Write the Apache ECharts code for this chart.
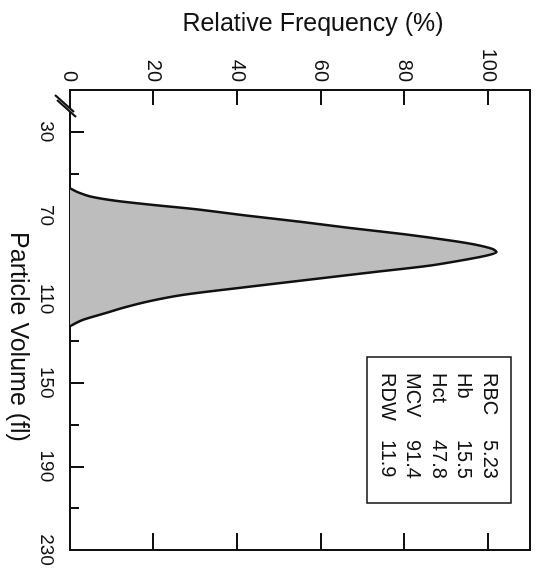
<!DOCTYPE html>
<html>
<head>
<meta charset="utf-8">
<script src="https://cdn.jsdelivr.net/npm/echarts@6/dist/echarts.min.js"></script>
<style>
  html, body { margin: 0; padding: 0; background: #fff; overflow: hidden; }
  /* chart is drawn upright, then turned a quarter clockwise like the scan */
  #main {
    position: absolute; left: 536px; top: 0;
    width: 569px; height: 536px;
    transform-origin: 0 0; transform: rotate(90deg);
  }
</style>
</head>
<body>
<div id="main"></div>
<script>
// histogram
var volume    = [57, 59, 61, 63, 65, 67, 70, 73, 76, 79, 82, 84, 86, 87.5, 89, 91, 94, 97, 101, 105, 108, 111, 114, 117, 120, 123];
var frequency = [0, 2, 5, 11, 20, 30, 42, 55, 67, 80, 91, 97, 101, 102, 100, 95, 86, 73, 56, 39, 27, 19, 13, 8, 3, 0];

var volumeLabels = [30, 70, 110, 150, 190, 230];
var volumeMajor  = [30, 70, 110, 150, 190];
var volumeMinor  = [50, 90, 130, 170, 210];
var freqLabels   = [0, 20, 40, 60, 80, 100];
var freqTicks    = [20, 40, 60, 80, 100];

var statNames  = ['RBC', 'Hb', 'Hct', 'MCV', 'RDW'];
var statValues = ['5.23', '15.5', '47.8', '91.4', '11.9'];

var ink = '#111';
var font = 'Liberation Sans, Arial, Helvetica, sans-serif';

var points = volume.map(function (v, i) { return [v, frequency[i]]; });

var chart = echarts.init(document.getElementById('main'));
chart.setOption({
  animation: false,
  backgroundColor: '#fff',
  grid: { left: 90, right: 19, top: 6, bottom: 70, show: true, borderColor: ink, borderWidth: 2 },
  xAxis: [
    {
      type: 'value', position: 'bottom', min: 10, max: 230,
      name: 'Particle Volume (fl)', nameLocation: 'middle', nameGap: 40,
      nameTextStyle: { color: ink, fontSize: 25, fontFamily: font, padding: [0, 0, 0, 34] },
      axisLine: { show: true, lineStyle: { color: ink, width: 2 } },
      axisTick: { inside: true, length: 14, customValues: volumeMajor, lineStyle: { color: ink, width: 2 } },
      axisLabel: { customValues: volumeLabels, margin: 14, fontSize: 19, color: ink, fontFamily: font },
      splitLine: { show: false }
    },
    {
      type: 'value', position: 'bottom', min: 10, max: 230,
      axisLine: { show: false },
      axisTick: { inside: true, length: 9, customValues: volumeMinor, lineStyle: { color: ink, width: 2 } },
      axisLabel: { show: false },
      splitLine: { show: false }
    }
  ],
  yAxis: [
    {
      type: 'value', position: 'left', min: 0, max: 110,
      name: 'Relative Frequency (%)', nameLocation: 'middle', nameGap: 53,
      nameTextStyle: { color: ink, fontSize: 25, fontFamily: font, padding: [0, 0, 0, 26] },
      axisLine: { show: true, lineStyle: { color: ink, width: 2 } },
      axisTick: { inside: true, length: 15, customValues: freqTicks, lineStyle: { color: ink, width: 2 } },
      axisLabel: { customValues: freqLabels, margin: 8, fontSize: 20, color: ink, fontFamily: font },
      splitLine: { show: false }
    },
    {
      type: 'value', position: 'right', min: 0, max: 110,
      axisLine: { show: true, lineStyle: { color: ink, width: 2 } },
      axisTick: { inside: true, length: 17, customValues: freqTicks, lineStyle: { color: ink, width: 2 } },
      axisLabel: { show: false },
      splitLine: { show: false }
    }
  ],
  series: [{
    type: 'line',
    data: points,
    smooth: 0.3,
    showSymbol: false,
    lineStyle: { color: ink, width: 2.5 },
    areaStyle: { color: '#bdbdbd', opacity: 1 }
  }],
  graphic: [
    // axis break mark near the start of the volume axis
    { type: 'polygon', z: 100, shape: { points: [[95, 481], [112, 462], [117, 460], [100, 479]] }, style: { fill: '#fff' } },
    { type: 'line', z: 101, shape: { x1: 95, y1: 481, x2: 112, y2: 462 }, style: { stroke: ink, lineWidth: 2 } },
    { type: 'line', z: 101, shape: { x1: 100, y1: 479, x2: 117, y2: 460 }, style: { stroke: ink, lineWidth: 2 } },
    // stats box
    { type: 'rect', z: 100, shape: { x: 357, y: 25, width: 146, height: 144 }, style: { fill: '#fff', stroke: ink, lineWidth: 1.5 } },
    { type: 'text', z: 101, style: { x: 373, y: 34, text: statNames.join('\n'), fill: ink, fontSize: 20, fontFamily: font, lineHeight: 25.5, verticalAlign: 'top' } },
    { type: 'text', z: 101, style: { x: 440, y: 34, text: statValues.join('\n'), fill: ink, fontSize: 20, fontFamily: font, lineHeight: 25.5, verticalAlign: 'top' } }
  ]
});
</script>
</body>
</html>
